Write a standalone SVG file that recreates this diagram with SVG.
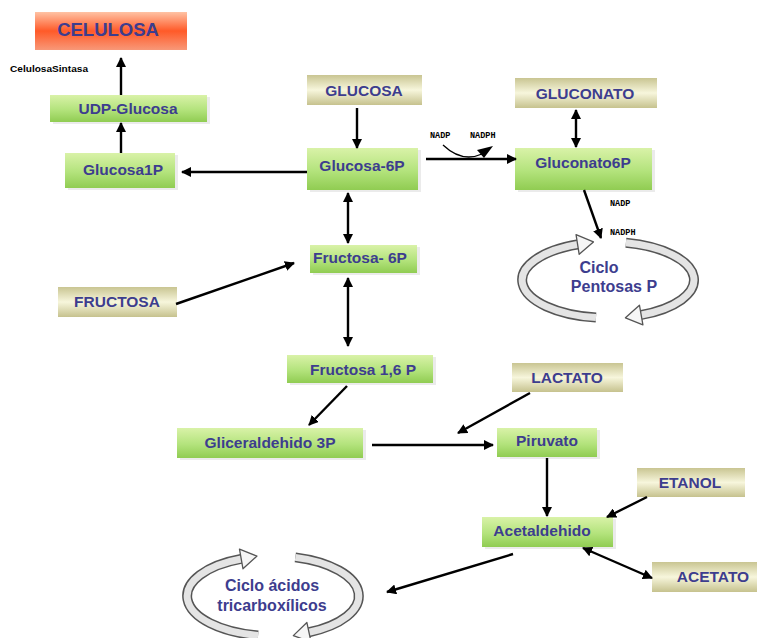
<svg xmlns="http://www.w3.org/2000/svg" width="767" height="638" viewBox="0 0 767 638">
<defs>
<linearGradient id="gGreen" x1="0" y1="0" x2="0" y2="1">
<stop offset="0" stop-color="#d9f2a8"/>
<stop offset="0.55" stop-color="#b3e37c"/>
<stop offset="1" stop-color="#90cc52"/>
</linearGradient>
<linearGradient id="gBeige" x1="0" y1="0" x2="0" y2="1">
<stop offset="0" stop-color="#c9c592"/>
<stop offset="0.5" stop-color="#f7f6dc"/>
<stop offset="1" stop-color="#c6c28e"/>
</linearGradient>
<linearGradient id="gRed" x1="0" y1="0" x2="0" y2="1">
<stop offset="0" stop-color="#ffc2a4"/>
<stop offset="0.5" stop-color="#ff5a28"/>
<stop offset="1" stop-color="#f89878"/>
</linearGradient>
<marker id="ah" viewBox="0 0 10 10" refX="9" refY="5" markerWidth="4.2" markerHeight="4.2" orient="auto-start-reverse" markerUnits="strokeWidth">
<path d="M0,0 L10,5 L0,10 z" fill="#000"/>
</marker>
<style>
.shadow{fill:#000;opacity:0.08}
.green{fill:url(#gGreen)}
.beige{fill:url(#gBeige)}
.red{fill:url(#gRed)}
.lbl{font-family:"Liberation Sans",Arial,sans-serif;font-weight:bold;font-size:15.5px;fill:#3d3d8e;text-anchor:middle}
.big{font-size:18.5px}
.cyc{font-size:16px}
.small{font-family:"Liberation Mono","DejaVu Sans Mono",monospace;font-weight:bold;font-size:8.5px;fill:#000}
.conn{stroke:#000;stroke-width:2.4;fill:none}
.band-o{fill:none;stroke:#555;stroke-width:10}
.band-i{fill:none;stroke:#e4e4e4;stroke-width:7}
.head{fill:#f6f6f6;stroke:#555;stroke-width:1.3;stroke-linejoin:round}
</style>
</defs>
<rect width="767" height="638" fill="#fff"/>

<g id="celulosa">
<rect x="35" y="12" width="152" height="38" class="red"/>
<text x="108" y="36" class="lbl big">CELULOSA</text>
</g>
<g id="celulosasintasa">
<text x="10" y="72" font-family="Liberation Sans, Arial, sans-serif" font-weight="bold" font-size="8.5" fill="#000" textLength="78" lengthAdjust="spacingAndGlyphs">CelulosaSintasa</text>
</g>
<g id="udpglucosa">
<rect x="53" y="97" width="157" height="27" class="shadow"/>
<rect x="50" y="95" width="157" height="27" class="green"/>
<text x="128" y="114" class="lbl">UDP-Glucosa</text>
</g>
<g id="glucosa1p">
<rect x="68" y="155" width="110" height="35" class="shadow"/>
<rect x="65" y="153" width="110" height="35" class="green"/>
<text x="123" y="175" class="lbl">Glucosa1P</text>
</g>
<g id="glucosa">
<rect x="307" y="75" width="115" height="30" class="beige"/>
<text x="364" y="96" class="lbl">GLUCOSA</text>
</g>
<g id="glucosa6p">
<rect x="310" y="150" width="111" height="42" class="shadow"/>
<rect x="307" y="148" width="111" height="42" class="green"/>
<text x="362" y="171" class="lbl">Glucosa-6P</text>
</g>
<g id="gluconato">
<rect x="515" y="78" width="142" height="30" class="beige"/>
<text x="585" y="99" class="lbl">GLUCONATO</text>
</g>
<g id="gluconato6p">
<rect x="518" y="150" width="137" height="42" class="shadow"/>
<rect x="515" y="148" width="137" height="42" class="green"/>
<text x="583" y="168" class="lbl">Gluconato6P</text>
</g>
<g id="fructosa6p">
<rect x="313" y="247" width="107" height="28" class="shadow"/>
<rect x="310" y="245" width="107" height="28" class="green"/>
<text x="360" y="263" class="lbl">Fructosa-  6P</text>
</g>
<g id="fructosa">
<rect x="58" y="287" width="119" height="30" class="beige"/>
<text x="117" y="307" class="lbl">FRUCTOSA</text>
</g>
<g id="fructosa16p">
<rect x="290" y="357" width="146" height="28" class="shadow"/>
<rect x="287" y="355" width="146" height="28" class="green"/>
<text x="363" y="375" class="lbl">Fructosa 1,6 P</text>
</g>
<g id="gliceraldehido3p">
<rect x="180" y="430" width="186" height="30" class="shadow"/>
<rect x="177" y="428" width="186" height="30" class="green"/>
<text x="270" y="448" class="lbl">Gliceraldehido 3P</text>
</g>
<g id="piruvato">
<rect x="500" y="430" width="100" height="29" class="shadow"/>
<rect x="497" y="428" width="100" height="29" class="green"/>
<text x="547" y="446" class="lbl">Piruvato</text>
</g>
<g id="lactato">
<rect x="512" y="363" width="111" height="29" class="beige"/>
<text x="567" y="383" class="lbl">LACTATO</text>
</g>
<g id="etanol">
<rect x="637" y="468" width="108" height="29" class="beige"/>
<text x="690" y="488" class="lbl">ETANOL</text>
</g>
<g id="acetaldehido">
<rect x="485" y="519" width="131" height="30" class="shadow"/>
<rect x="482" y="517" width="131" height="30" class="green"/>
<text x="542" y="536" class="lbl">Acetaldehido</text>
</g>
<g id="acetato">
<rect x="652" y="562" width="105" height="30" class="beige"/>
<text x="713" y="582" class="lbl">ACETATO</text>
</g>

<g id="ciclo-pentosas">
<path class="band-o" d="M596,317.6 A86,38 0 0,1 578.6,244.3"/>
<path class="band-i" d="M596,317.6 A86,38 0 0,1 578.6,244.3"/>
<path class="band-o" d="M625.9,242.8 A86,38 0 0,1 640.2,315.2"/>
<path class="band-i" d="M625.9,242.8 A86,38 0 0,1 640.2,315.2"/>
<polygon class="head" transform="translate(578.6,244.3) rotate(-9)" points="-1,-10 15,0 -1,10"/>
<polygon class="head" transform="translate(640.2,315.2) rotate(170)" points="-1,-10 15,0 -1,10"/>
<text x="599" y="273" class="lbl cyc">Ciclo</text>
<text x="614" y="292" class="lbl cyc">Pentosas P</text>
</g>

<g id="ciclo-tca">
<path class="band-o" d="M258.1,635.4 A86,40 0 0,1 242.2,558.7"/>
<path class="band-i" d="M258.1,635.4 A86,40 0 0,1 242.2,558.7"/>
<path class="band-o" d="M295.3,557.4 A86,40 0 0,1 308,632.5"/>
<path class="band-i" d="M295.3,557.4 A86,40 0 0,1 308,632.5"/>
<polygon class="head" transform="translate(242.2,558.7) rotate(-10)" points="-1,-10 15,0 -1,10"/>
<polygon class="head" transform="translate(308,632.5) rotate(168)" points="-1,-10 15,0 -1,10"/>
<text x="272" y="591" class="lbl cyc">Ciclo ácidos</text>
<text x="272" y="611" class="lbl cyc">tricarboxílicos</text>
</g>

<g id="connectors">
<line class="conn" x1="121" y1="95" x2="121" y2="58" marker-end="url(#ah)"/>
<line class="conn" x1="121" y1="153" x2="121" y2="123" marker-end="url(#ah)"/>
<line class="conn" x1="307" y1="172" x2="182" y2="172" marker-end="url(#ah)"/>
<line class="conn" x1="357" y1="108" x2="357" y2="148" marker-end="url(#ah)"/>
<line class="conn" x1="426" y1="159" x2="516" y2="159" marker-end="url(#ah)"/>
<path d="M443,145 Q462,163 482,154" stroke="#000" stroke-width="1.3" fill="none"/>
<path d="M477,150 L493,146 L484,158 z" fill="#000"/>
<line class="conn" x1="576" y1="110" x2="576" y2="147" marker-start="url(#ah)" marker-end="url(#ah)"/>
<line class="conn" x1="584" y1="190" x2="601" y2="238" marker-end="url(#ah)"/>
<line class="conn" x1="348" y1="193" x2="348" y2="243" marker-start="url(#ah)" marker-end="url(#ah)"/>
<line class="conn" x1="176" y1="304" x2="294" y2="263" marker-end="url(#ah)"/>
<line class="conn" x1="348" y1="278" x2="348" y2="346" marker-start="url(#ah)" marker-end="url(#ah)"/>
<line class="conn" x1="347" y1="386" x2="309" y2="425" marker-end="url(#ah)"/>
<line class="conn" x1="372" y1="445" x2="493" y2="445" marker-end="url(#ah)"/>
<line class="conn" x1="530" y1="393" x2="458" y2="433" marker-end="url(#ah)"/>
<line class="conn" x1="547" y1="458" x2="547" y2="516" marker-end="url(#ah)"/>
<line class="conn" x1="647" y1="497" x2="607" y2="517" marker-end="url(#ah)"/>
<line class="conn" x1="583" y1="548" x2="652" y2="578" marker-start="url(#ah)" marker-end="url(#ah)"/>
<line class="conn" x1="513" y1="554" x2="387" y2="592" marker-end="url(#ah)"/>
<text x="430" y="138" class="small">NADP</text>
<text x="470" y="138" class="small">NADPH</text>
<text x="610" y="206" class="small">NADP</text>
<text x="610" y="235" class="small">NADPH</text>
</g>
</svg>
